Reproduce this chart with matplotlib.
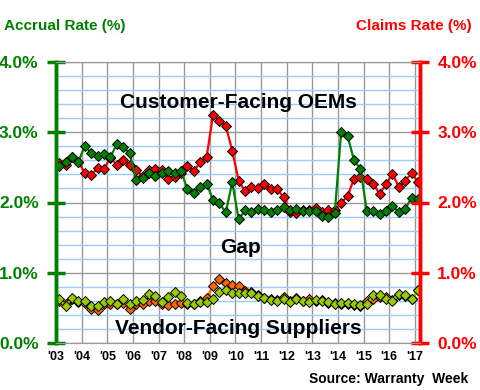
import numpy as np
import matplotlib
matplotlib.use("Agg")
import matplotlib.pyplot as plt
from matplotlib.ticker import MultipleLocator, FuncFormatter

plt.rcParams['font.family'] = ['Liberation Sans', 'DejaVu Sans']

# quarterly data, 2003 Q1 .. 2017 Q1
n_quarters = 57
quarter_x = 2003.125 + 0.25 * np.arange(n_quarters)

oem_accrual = [2.52, 2.58, 2.65, 2.58, 2.81, 2.70, 2.66, 2.69, 2.65, 2.83,
               2.79, 2.70, 2.32, 2.35, 2.42, 2.38, 2.42, 2.45, 2.42, 2.45,
               2.19, 2.14, 2.22, 2.27, 2.04, 1.99, 1.86, 2.29, 1.76, 1.89,
               1.87, 1.91, 1.89, 1.86, 1.90, 1.94, 1.89, 1.91, 1.88, 1.88,
               1.88, 1.81, 1.80, 1.85, 3.01, 2.95, 2.60, 2.48, 1.88, 1.88,
               1.83, 1.88, 1.95, 1.86, 1.91, 2.07, 2.05]
oem_claims = [2.56, 2.54, 2.65, 2.58, 2.42, 2.39, 2.49, 2.48, 2.64, 2.53,
              2.61, 2.53, 2.46, 2.38, 2.46, 2.47, 2.46, 2.33, 2.37, 2.42,
              2.52, 2.45, 2.57, 2.65, 3.24, 3.16, 3.09, 2.74, 2.31, 2.16,
              2.22, 2.20, 2.27, 2.19, 2.19, 2.08, 1.87, 1.85, 1.89, 1.90,
              1.92, 1.87, 1.89, 1.89, 2.00, 2.09, 2.34, 2.37, 2.33, 2.27,
              2.12, 2.26, 2.41, 2.22, 2.31, 2.42, 2.29]
sup_accrual = [0.62, 0.53, 0.64, 0.60, 0.60, 0.53, 0.52, 0.59, 0.60, 0.56,
               0.63, 0.56, 0.60, 0.61, 0.70, 0.67, 0.59, 0.66, 0.73, 0.67,
               0.57, 0.56, 0.59, 0.58, 0.63, 0.72, 0.75, 0.71, 0.71, 0.71,
               0.71, 0.67, 0.64, 0.61, 0.60, 0.62, 0.59, 0.63, 0.60, 0.59,
               0.61, 0.60, 0.59, 0.56, 0.57, 0.57, 0.56, 0.54, 0.55, 0.68,
               0.68, 0.63, 0.60, 0.70, 0.68, 0.63, 0.76]
sup_claims = [0.60, 0.56, 0.63, 0.59, 0.57, 0.48, 0.47, 0.56, 0.56, 0.56,
              0.57, 0.48, 0.55, 0.56, 0.60, 0.60, 0.56, 0.54, 0.56, 0.57,
              0.56, 0.56, 0.60, 0.64, 0.81, 0.91, 0.86, 0.83, 0.81, 0.74,
              0.72, 0.68, 0.64, 0.62, 0.61, 0.66, 0.60, 0.64, 0.60, 0.62,
              0.60, 0.61, 0.57, 0.57, 0.55, 0.56, 0.54, 0.53, 0.60, 0.62,
              0.65, 0.65, 0.61, 0.69, 0.67, 0.63, 0.76]

years = np.arange(2003, 2018)
year_labels = ["'%02d" % (y % 100) for y in years]

green = '#008000'
red = '#FF0000'
orange = '#FF6600'
lime = '#99CC00'

fig = plt.figure(figsize=(4.8, 3.9), dpi=100)
ax = fig.add_axes([56/480, 47/390, 364/480, 281/390])
ax2 = ax.twinx()

# grid
ax.set_xlim(2003.0, 2017.2)
ax.set_ylim(0, 4)
ax.set_xticks(years)
ax.set_xticklabels(year_labels, fontsize=9, fontweight='bold')
ax.yaxis.set_major_locator(MultipleLocator(1.0))
ax.yaxis.set_minor_locator(MultipleLocator(0.2))
ax.grid(axis='y', which='minor', color='#99CCFF', lw=1)
ax.grid(axis='y', which='major', color='#999999', lw=1)
ax.grid(axis='x', which='major', color='#999999', lw=1)
ax.set_axisbelow(True)
ax.tick_params(axis='x', length=0, pad=6)
ax.tick_params(axis='y', which='minor', length=0)
ax.tick_params(axis='y', which='major', direction='inout', length=13, width=2.5,
               color=green, labelcolor=green, labelsize=12.5, pad=6)
for lab in ax.get_yticklabels():
    lab.set_fontweight('bold')
pct = FuncFormatter(lambda v, p: '%.1f%%' % v)
ax.yaxis.set_major_formatter(pct)

ax2.set_ylim(0, 4)
ax2.yaxis.set_major_locator(MultipleLocator(1.0))
ax2.yaxis.set_major_formatter(pct)
ax2.tick_params(axis='y', direction='inout', length=13, width=2.5,
                color=red, labelcolor=red, labelsize=12.5, pad=6)
for lab in ax2.get_yticklabels():
    lab.set_fontweight('bold')

for a in (ax, ax2):
    a.spines['top'].set_color('#999999')
    a.spines['bottom'].set_color('#999999')
    a.spines['left'].set_color(green)
    a.spines['left'].set_linewidth(2.5)
    a.spines['right'].set_color(red)
    a.spines['right'].set_linewidth(2.5)

mk = dict(marker='D', markersize=5, markeredgecolor='black', markeredgewidth=0.7, lw=1.6)
ax.plot(quarter_x, sup_claims, color=orange, markerfacecolor=orange, **mk)
ax.plot(quarter_x, sup_accrual, color=lime, markerfacecolor=lime, **mk)
ax.plot(quarter_x, oem_claims, color=red, markerfacecolor=red, **mk)
ax.plot(quarter_x, oem_accrual, color=green, markerfacecolor=green, **mk)

# annotations
ax.text(0.5, 0.857, 'Customer-Facing OEMs', transform=ax.transAxes,
        ha='center', va='center', fontsize=15, fontweight='bold')
ax.text(0.507, 0.339, 'Gap', transform=ax.transAxes,
        ha='center', va='center', fontsize=15, fontweight='bold')
ax.text(0.5, 0.053, 'Vendor-Facing Suppliers', transform=ax.transAxes,
        ha='center', va='center', fontsize=15, fontweight='bold')

fig.text(4/480, 1 - 26/390, 'Accrual Rate (%)', color=green, fontsize=11,
         fontweight='bold', ha='left', va='center')
fig.text(472/480, 1 - 26/390, 'Claims Rate (%)', color=red, fontsize=11,
         fontweight='bold', ha='right', va='center')
fig.text(468/480, 1 - 379/390, 'Source: Warranty  Week', fontsize=10,
         fontweight='bold', ha='right', va='center')

fig.savefig('out.png', dpi=100)
